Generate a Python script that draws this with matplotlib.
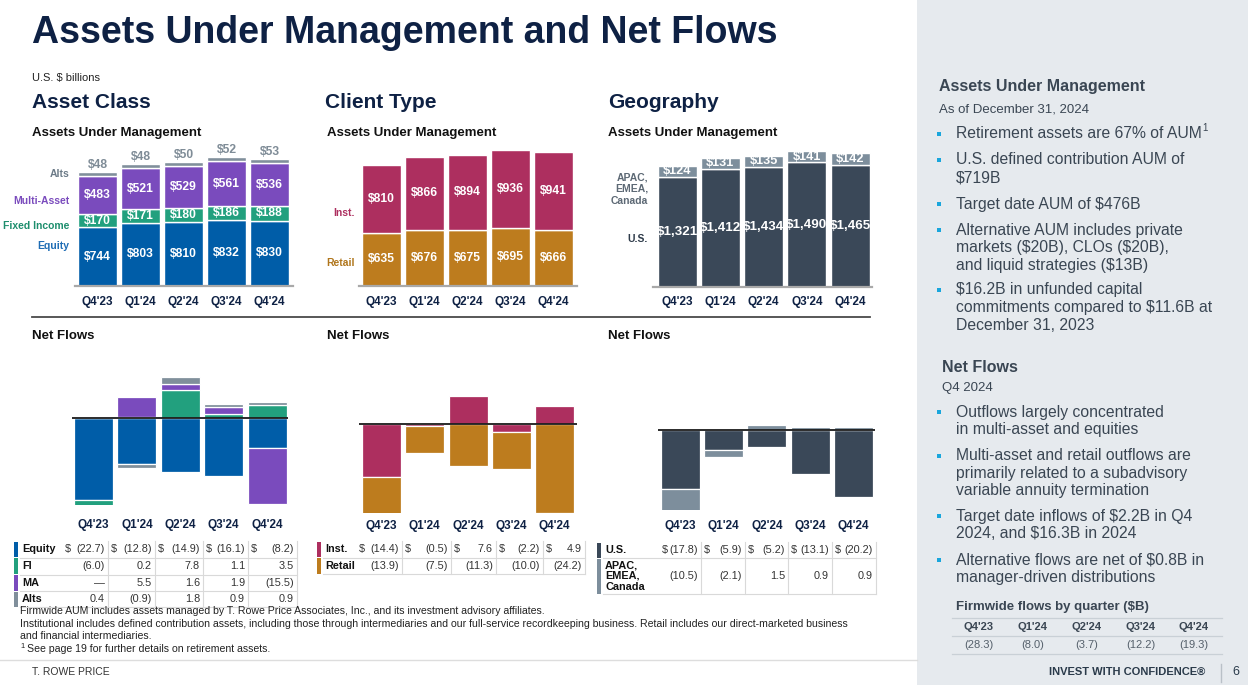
import matplotlib
matplotlib.use('Agg')
import matplotlib.pyplot as plt
import numpy as np
from matplotlib.patches import Rectangle
from matplotlib.lines import Line2D
from matplotlib.transforms import blended_transform_factory

plt.rcParams['font.family'] = ['Liberation Sans', 'DejaVu Sans']

# ---------------- data ----------------
quarters = ["Q4'23", "Q1'24", "Q2'24", "Q3'24", "Q4'24"]

equity_aum = [744, 803, 810, 832, 830]
fi_aum = [170, 171, 180, 186, 188]
ma_aum = [483, 521, 529, 561, 536]
alts_aum = [48, 48, 50, 52, 53]

inst_aum = [810, 866, 894, 936, 941]
retail_aum = [635, 676, 675, 695, 666]

us_aum = [1321, 1412, 1434, 1490, 1465]
intl_aum = [124, 131, 135, 141, 142]

equity_flow = [-22.7, -12.8, -14.9, -16.1, -8.2]
fi_flow = [-6.0, 0.2, 7.8, 1.1, 3.5]
ma_flow = [0.0, 5.5, 1.6, 1.9, -15.5]
alts_flow = [0.4, -0.9, 1.8, 0.9, 0.9]

inst_flow = [-14.4, -0.5, 7.6, -2.2, 4.9]
retail_flow = [-13.9, -7.5, -11.3, -10.0, -24.2]

us_flow = [-17.8, -5.9, -5.2, -13.1, -20.2]
intl_flow = [-10.5, -2.1, 1.5, 0.9, 0.9]

firmwide_flow = [-28.3, -8.0, -3.7, -12.2, -19.3]

# ---------------- colours ----------------
NAVY = '#0e2144'
C_EQ, C_FI, C_MA, C_ALT = '#005da8', '#22a07e', '#7a4bbd', '#808f9b'
C_INST, C_RET = '#ad2f5f', '#bd7c1e'
C_US, C_INTL = '#3a4858', '#7d8e9c'
PANEL = '#e6eaee'
PTXT = '#3a4653'
BULLET = '#1aa6dc'

W, H = 1248, 685
fig = plt.figure(figsize=(W / 100, H / 100), dpi=100)


def T(x, y, s, **kw):
    kw.setdefault('va', 'center')
    kw.setdefault('parse_math', False)
    return fig.text(x / W, 1 - y / H, s, **kw)


def hline(x0, x1, y, color, lw=1.0):
    fig.add_artist(Line2D([x0 / W, x1 / W], [1 - y / H, 1 - y / H], color=color, lw=lw,
                          transform=fig.transFigure))


def vline(x, y0, y1, color, lw=1.0):
    fig.add_artist(Line2D([x / W, x / W], [1 - y0 / H, 1 - y1 / H], color=color, lw=lw,
                          transform=fig.transFigure))


def rect(x, y, w, h, color, zorder=1):
    fig.add_artist(Rectangle((x / W, 1 - (y + h) / H), w / W, h / H, transform=fig.transFigure,
                             facecolor=color, edgecolor='none', lw=0, zorder=zorder))


def cat_ax(x0, x1, ytop, ybot, c0, step, ylo, yhi):
    ax = fig.add_axes([x0 / W, 1 - ybot / H, (x1 - x0) / W, (ybot - ytop) / H])
    ax.set_xlim((x0 - c0) / step, (x1 - c0) / step)
    ax.set_ylim(ylo, yhi)
    ax.axis('off')
    return ax


def qlabels(ax, y):
    tr = blended_transform_factory(ax.transData, fig.transFigure)
    for i, q in enumerate(quarters):
        ax.text(i, 1 - y / H, q, transform=tr, ha='center', va='center', fontsize=8.5,
                fontweight='bold', color=NAVY)


def stack_pn(ax, series, colors, width):
    x = np.arange(len(quarters))
    pos = np.zeros(len(x))
    neg = np.zeros(len(x))
    for vals, col in zip(series, colors):
        v = np.array(vals, dtype=float)
        bottom = np.where(v >= 0, pos, neg)
        ax.bar(x, v, width, bottom=bottom, color=col, edgecolor='white', linewidth=0.9)
        pos += np.clip(v, 0, None)
        neg += np.clip(v, None, 0)


def stack_aum(ax, series, colors, width, label_sizes, label_fmt):
    x = np.arange(len(quarters))
    bottom = np.zeros(len(x))
    for k, (vals, col) in enumerate(zip(series, colors)):
        v = np.array(vals, dtype=float)
        ax.bar(x, v, width, bottom=bottom, color=col, edgecolor='white', linewidth=1.0)
        if label_sizes[k]:
            for i in range(len(x)):
                ax.text(x[i], bottom[i] + v[i] / 2, label_fmt(vals[i]), ha='center', va='center',
                        color='white', fontsize=label_sizes[k], fontweight='bold',
                        parse_math=False)
        bottom += v
    return bottom


def money(v):
    return f'${v:,}'


def fmt(v):
    if v == 0:
        return '\u2014'
    if v < 0:
        return f'({abs(v):.1f})'
    return f'{v:.1f}'


# right panel background
rect(917, 0, W - 917, H, PANEL, zorder=-1)

# ---------------- titles ----------------
T(32, 43, 'Assets Under Management and Net Flows', fontsize=27, fontweight='bold',
  color=NAVY, va='baseline')
T(32, 78, 'U.S. $ billions', fontsize=8, color='#222')
for x, s in [(32, 'Asset Class'), (325, 'Client Type'), (608, 'Geography')]:
    T(x, 103, s, fontsize=15, fontweight='bold', color=NAVY)
for x in [32, 327, 608]:
    T(x, 133, 'Assets Under Management', fontsize=9.5, fontweight='bold', color='#111')
    T(x, 336, 'Net Flows', fontsize=9.5, fontweight='bold', color='#111')

hline(32, 870, 317, '#4a4a4a', 1.3)

# ---------------- AUM: asset class ----------------
ax = cat_ax(75, 293, 150, 286, 97.5, 43, 0, (286 - 150) / 0.0789)
tot = stack_aum(ax, [equity_aum, fi_aum, ma_aum, alts_aum], [C_EQ, C_FI, C_MA, C_ALT],
                39 / 43, [8.7, 8.7, 8.7, 0], money)
for i in range(len(quarters)):
    ax.annotate(money(alts_aum[i]), (i, tot[i]), xytext=(0, 1), textcoords='offset points',
                ha='center', va='bottom', fontsize=8.7, fontweight='bold', color='#7f8c97',
                annotation_clip=False)
ax.axhline(0, color='#a9a9a9', lw=1.6, clip_on=False)
qlabels(ax, 302)
for y, s, c in [(174, 'Alts', '#6b7a87'), (201, 'Multi-Asset', C_MA),
                (226, 'Fixed Income', '#1d8e6d'), (246, 'Equity', '#1f6db5')]:
    T(69, y, s, ha='right', fontsize=7.5, fontweight='bold', color=c)

# ---------------- AUM: client type ----------------
ax = cat_ax(359, 577, 145, 286, 381.5, 43, 0, (286 - 145) / 0.0835)
stack_aum(ax, [retail_aum, inst_aum], [C_RET, C_INST], 39 / 43, [8.7, 8.7], money)
ax.axhline(0, color='#a9a9a9', lw=1.6, clip_on=False)
qlabels(ax, 302)
T(355, 213, 'Inst.', ha='right', fontsize=7.5, fontweight='bold', color=C_INST)
T(355, 263, 'Retail', ha='right', fontsize=7.5, fontweight='bold', color='#b0761c')

# ---------------- AUM: geography ----------------
ax = cat_ax(653, 872, 145, 287, 677, 43.25, 0, (287 - 145) / 0.0836)
stack_aum(ax, [us_aum, intl_aum], [C_US, C_INTL], 39 / 43.25, [9.6, 9.2], money)
ax.axhline(0, color='#a9a9a9', lw=1.6, clip_on=False)
qlabels(ax, 302)
for y, s in [(177, 'APAC,'), (189, 'EMEA,'), (201, 'Canada')]:
    T(648, y, s, ha='right', fontsize=7.5, fontweight='bold', color='#5d6975')
T(648, 239, 'U.S.', ha='right', fontsize=7.5, fontweight='bold', color='#2e3b4a')

# ---------------- Net flows ----------------
ax = cat_ax(72, 288, 360, 505, 93.5, 43.4, -24, 16)
stack_pn(ax, [equity_flow, fi_flow, ma_flow, alts_flow], [C_EQ, C_FI, C_MA, C_ALT], 39 / 43.4)
ax.axhline(0, color='#1a1a1a', lw=1.3, zorder=5)
qlabels(ax, 525)

ax = cat_ax(359, 577, 360, 513, 381.5, 43.25, -24.2, 17.4)
stack_pn(ax, [inst_flow, retail_flow], [C_INST, C_RET], 39 / 43.25)
ax.axhline(0, color='#1a1a1a', lw=1.3, zorder=5)
qlabels(ax, 526)

ax = cat_ax(658, 875, 360, 510.3, 680, 43.4, -24.1, 21.0)
stack_pn(ax, [us_flow, intl_flow], [C_US, C_INTL], 39 / 43.4)
ax.axhline(0, color='#1a1a1a', lw=1.3, zorder=5)
qlabels(ax, 526)


# ---------------- tables ----------------
def draw_table(labels, rows, tops, heights, bounds, label_x, bar_x, bar_colors):
    right = bounds[-1]
    for r, (lab, vals, top, h, bc) in enumerate(zip(labels, rows, tops, heights, bar_colors)):
        cy = top + h / 2
        rect(bar_x, top + 0.5, 3.5, h - 1, bc)
        parts = lab.split('\n')
        for j, p in enumerate(parts):
            T(label_x, cy + (j - (len(parts) - 1) / 2) * 11, p, fontsize=7.8,
              fontweight='bold', color='#111')
        for c, v in enumerate(vals):
            if r == 0:
                T(bounds[c] + 3, cy, '$', fontsize=7.8, color='#333')
            T(bounds[c + 1] - 3, cy, fmt(v), ha='right', fontsize=7.8, color='#333')
        hline(label_x - 2, right, top + h, '#d9d9d9', 0.8)
    for b in bounds[1:]:
        vline(b, tops[0], tops[-1] + heights[-1], '#d9d9d9', 0.8)


draw_table(['Equity', 'FI', 'MA', 'Alts'], [equity_flow, fi_flow, ma_flow, alts_flow],
           [541, 557.5, 574.5, 591], [16.5, 17, 16.5, 16],
           [62, 108, 155, 203, 248, 297], 22, 14, [C_EQ, C_FI, C_MA, C_ALT])
draw_table(['Inst.', 'Retail'], [inst_flow, retail_flow], [541, 557.5], [16.5, 16.5],
           [356, 402, 451, 496, 543, 585], 325, 317, [C_INST, C_RET])
draw_table(['U.S.', 'APAC,\nEMEA,\nCanada'], [us_flow, intl_flow], [542, 558], [16, 36],
           [659, 701, 745, 788, 832, 876], 605, 597, [C_US, C_INTL])

# footnotes
fn = 7.6
T(20, 611, 'Firmwide AUM includes assets managed by T. Rowe Price Associates, Inc., and its '
  'investment advisory affiliates.', fontsize=fn, color='#222')
T(20, 624, 'Institutional includes defined contribution assets, including those through '
  'intermediaries and our full-service recordkeeping business. Retail includes our '
  'direct-marketed business', fontsize=fn, color='#222')
T(20, 636, 'and financial intermediaries.', fontsize=fn, color='#222')
T(20, 646, '1', fontsize=5.5, color='#222')
T(27, 649, 'See page 19 for further details on retirement assets.', fontsize=fn, color='#222')

# footer
hline(0, 917, 660, '#dddddd', 1.0)
T(32, 672, 'T. ROWE PRICE', fontsize=7.5, color='#333')
T(1205, 672, 'INVEST WITH CONFIDENCE\u00ae', ha='right', fontsize=8, fontweight='bold',
  color='#2a3a4a')
vline(1221, 664, 682, '#b9c0c7', 1.0)
T(1236, 672, '6', ha='center', fontsize=9, color='#2a3a4a')

# ---------------- right panel ----------------
T(939, 86, 'Assets Under Management', fontsize=11.5, fontweight='bold', color=PTXT)
T(939, 109, 'As of December 31, 2024', fontsize=9.5, color=PTXT)
STEP = 17.5
aum_bullets = [
    (134, ['Retirement assets are 67% of AUM']),
    (160, ['U.S. defined contribution AUM of', '$719B']),
    (204, ['Target date AUM of $476B']),
    (230, ['Alternative AUM includes private', 'markets ($20B), CLOs ($20B),',
           'and liquid strategies ($13B)']),
    (290, ['$16.2B in unfunded capital', 'commitments compared to $11.6B at',
           'December 31, 2023']),
]
flow_bullets = [
    (412, ['Outflows largely concentrated', 'in multi-asset and equities']),
    (456, ['Multi-asset and retail outflows are', 'primarily related to a subadvisory',
           'variable annuity termination']),
    (516, ['Target date inflows of $2.2B in Q4', '2024, and $16.3B in 2024']),
    (560, ['Alternative flows are net of $0.8B in', 'manager-driven distributions']),
]
for y0, lines in aum_bullets + flow_bullets:
    rect(937, y0 - 2, 4, 4, BULLET, zorder=2)
    for j, s in enumerate(lines):
        T(956, y0 + j * STEP, s, fontsize=11.3, color=PTXT)
T(1202, 128, '1', fontsize=7, color=PTXT)

T(942, 367, 'Net Flows', fontsize=11.5, fontweight='bold', color=PTXT)
T(942, 388, 'Q4 2024', fontsize=9.5, color=PTXT)

T(956, 607, 'Firmwide flows by quarter ($B)', fontsize=9.5, fontweight='bold', color=PTXT)
for y in [618, 636, 654]:
    hline(952, 1222, y, '#c9d0d6', 0.9)
fx_centers = [979, 1033, 1087, 1141, 1194]
for cx, q, v in zip(fx_centers, quarters, firmwide_flow):
    T(cx, 627, q, ha='center', fontsize=8, fontweight='bold', color=PTXT)
    T(cx, 644.5, fmt(v), ha='center', fontsize=8, color='#55606b')

fig.savefig('out.png', dpi=100)
